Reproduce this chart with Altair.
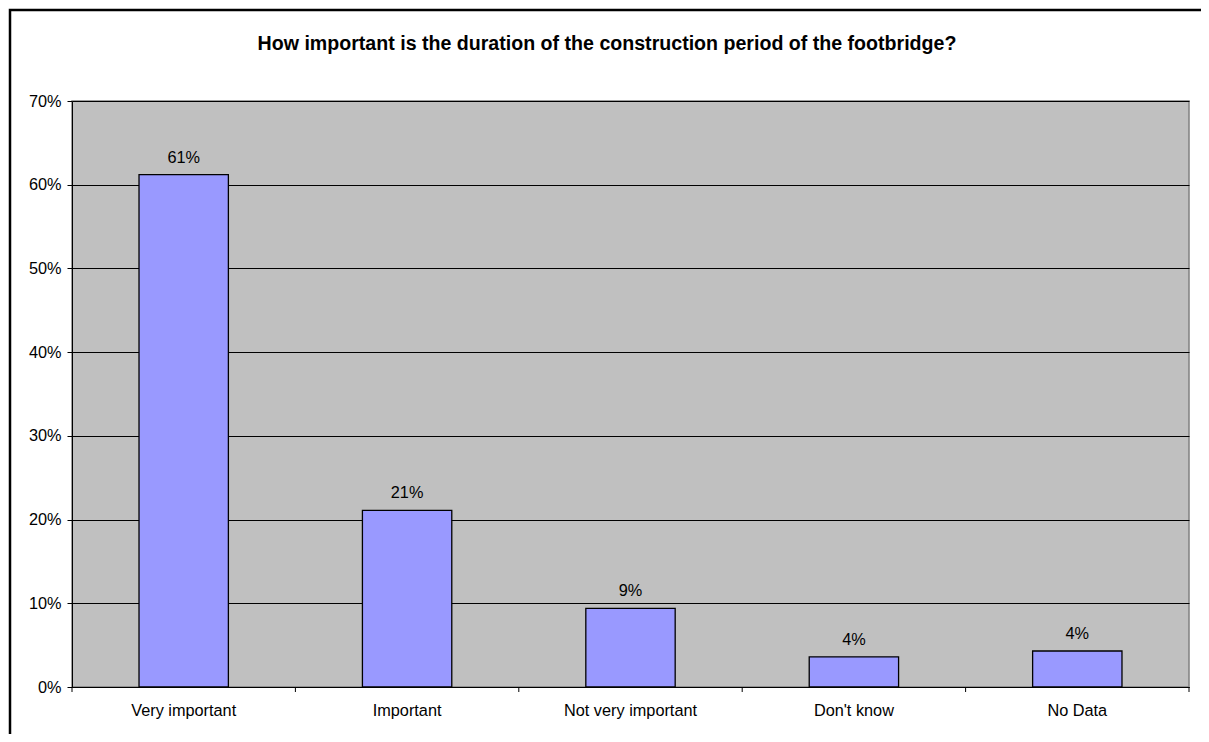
import altair as alt
import pandas as pd

categories = ["Very important", "Important", "Not very important", "Don't know", "No Data"]
shares = [0.612, 0.211, 0.094, 0.036, 0.043]
y_ticks = [0, 0.1, 0.2, 0.3, 0.4, 0.5, 0.6, 0.7]
boundaries = [0, 1, 2, 3, 4, 5]
title_text = "How important is the duration of the construction period of the footbridge?"

W, H = 1117, 586
FONT = "Liberation Sans"

df = pd.DataFrame({"category": categories, "share": shares})

band_scale = alt.Scale(paddingInner=0.6, paddingOuter=0.3)
y_scale = alt.Scale(domain=[0, 0.7], nice=False, zero=True)

x_enc = alt.X(
    "category:N", sort=categories, scale=band_scale,
    axis=alt.Axis(title=None, labelAngle=0, labelFontSize=16.3, labelFont=FONT,
                  labelColor="#000", ticks=False, labelPadding=15,
                  domainColor="#000", domainWidth=1),
)
y_enc = alt.Y(
    "share:Q", scale=y_scale,
    axis=alt.Axis(title=None, values=y_ticks, format=".0%", labelFontSize=16.3,
                  labelFont=FONT, labelColor="#000", tickColor="#000", tickSize=5,
                  labelPadding=6, domainColor="#000", domainWidth=1, grid=True,
                  gridColor="#000000", gridWidth=1),
)

bars = alt.Chart(df).mark_bar(fill="#9999FF", stroke="#000", strokeWidth=1.3).encode(
    x=x_enc, y=y_enc
)
labels = alt.Chart(df).mark_text(
    baseline="alphabetic", dy=-12, fontSize=16.3, font=FONT, color="#000"
).encode(
    x=alt.X("category:N", sort=categories, scale=band_scale, axis=None),
    y=alt.Y("share:Q", scale=y_scale),
    text=alt.Text("share:Q", format=".0%"),
)

ticks = alt.Chart(pd.DataFrame({"b": boundaries})).mark_rule(color="#000", strokeWidth=1).encode(
    x=alt.X("b:Q", scale=alt.Scale(domain=[0, 5], nice=False, zero=False), axis=None),
    y=alt.value(H),
    y2=alt.value(H + 5),
)

one = pd.DataFrame({"t": [title_text]})
border = alt.Chart(one).mark_rect(fill=None, stroke="#000", strokeWidth=2.5).encode(
    x=alt.value(-62), x2=alt.value(3000), y=alt.value(-91), y2=alt.value(3000)
)
title = alt.Chart(one).mark_text(
    fontSize=19.6, fontWeight="bold", font=FONT, color="#000", baseline="alphabetic", align="center"
).encode(text="t:N", x=alt.value(535), y=alt.value(-51))

chart = (
    alt.layer(border, bars, labels, ticks, title)
    .resolve_scale(x="independent")
    .properties(
        width=W, height=H,
        autosize=alt.AutoSizeParams(type="none"),
        padding={"left": 64, "top": 93, "right": 12, "bottom": 47},
        background="#FFFFFF",
    )
    .configure_view(stroke="#808080", strokeWidth=1.5, fill="#C0C0C0")
)

chart.save("out.html", embed_options={"renderer": "svg", "actions": False})
